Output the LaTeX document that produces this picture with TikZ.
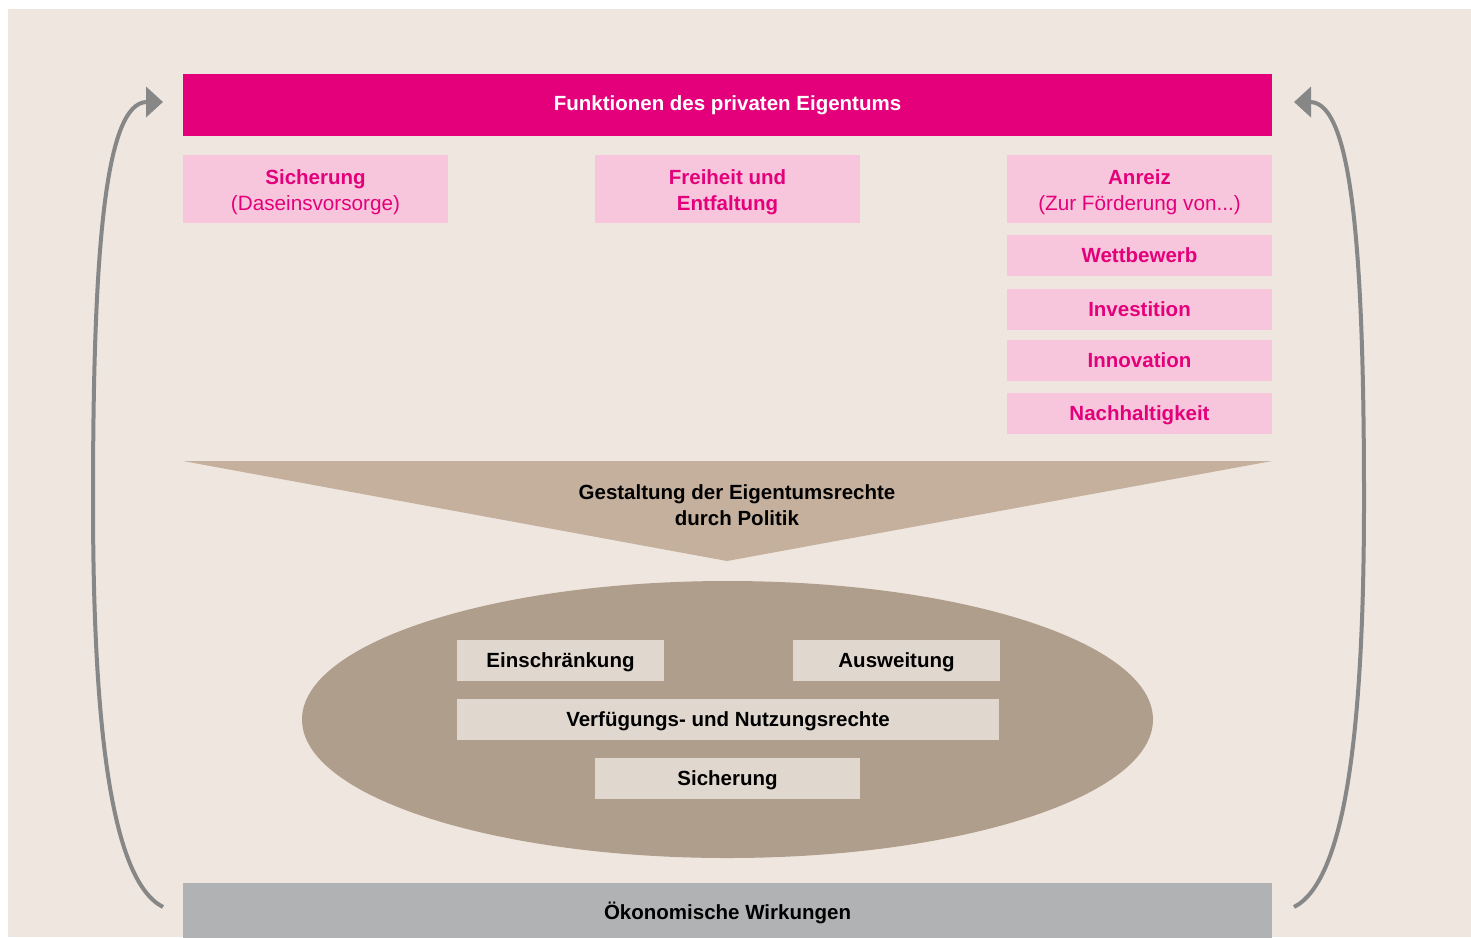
\documentclass[tikz,border=0pt]{standalone}
\usepackage{fontspec}
\setmainfont{Liberation Sans}
\usetikzlibrary{arrows.meta,shapes.geometric}
\definecolor{bgcol}{RGB}{239,230,223}
\definecolor{mag}{RGB}{228,0,122}
\definecolor{pinkfill}{RGB}{247,198,220}
\definecolor{triangcol}{RGB}{196,176,157}
\definecolor{ellcol}{RGB}{175,158,139}
\definecolor{innercol}{RGB}{224,215,206}
\definecolor{greycol}{RGB}{177,178,179}
\definecolor{arrcol}{RGB}{135,135,135}
\begin{document}
\begin{tikzpicture}[x=1pt,y=-1pt,
  bfont/.style={font=\fontsize{20.5}{26}\selectfont\bfseries},
  basebox/.style={rectangle, inner sep=0pt, minimum width=265pt, minimum height=41pt,
    align=center, text height=14.7pt, text depth=0pt, bfont},
  pinkbox/.style={basebox, fill=pinkfill, text=mag},
  innerbox/.style={basebox, fill=innercol, text=black},
  twoline/.style={minimum height=68pt, text height=42pt, text depth=0pt},
  loop arrow/.style={draw=arrcol, line width=4pt, -{Triangle[length=17pt,width=30pt]}, fill=none}
]
\useasboundingbox (0,0) rectangle (1471,937);
\fill[bgcol] (8,9) rectangle (1471,937);

% header
\node[basebox, fill=mag, text=white, minimum width=1089pt, minimum height=62pt,
  text depth=4.7pt] (head) at (727.5,105) {Funktionen des privaten Eigentums};

% function boxes
\node[pinkbox, twoline] (sich) at (315.5,189)
  {Sicherung\\{\fontsize{20.7}{26}\selectfont\mdseries (Daseinsvorsorge)}};
\node[pinkbox, twoline] (frei) at (727.5,189) {Freiheit und\\Entfaltung};
\node[pinkbox, twoline] (anr) at (1139.5,189)
  {Anreiz\\{\fontsize{20.7}{26}\selectfont\mdseries (Zur Förderung von...)}};
\node[pinkbox] (wett) at (1139.5,255.5) {Wettbewerb};
\node[pinkbox] (inv) at (1139.5,309.5) {Investition};
\node[pinkbox] (inno) at (1139.5,360.5) {Innovation};
\node[pinkbox] (nach) at (1139.5,413.5) {Nachhaltigkeit};

% triangle
\fill[triangcol] (183,461) -- (1272,461) -- (727,561) -- cycle;
\node[bfont, align=center, anchor=base, inner sep=0pt] (gest) at (737,525)
  {Gestaltung der Eigentumsrechte\\durch Politik};

% ellipse
\node[ellipse, fill=ellcol, minimum width=851pt, minimum height=277pt, inner sep=0pt]
  (ell) at (727.5,719.5) {};
\node[innerbox, minimum width=207pt] (ein) at (560.5,660.5) {Einschränkung};
\node[innerbox, minimum width=207pt] (aus) at (896.5,660.5) {Ausweitung};
\node[innerbox, minimum width=542pt] (verf) at (728,719.5) {Verfügungs- und Nutzungsrechte};
\node[innerbox] (sich2) at (727.5,778.5) {Sicherung};

% bottom
\node[basebox, fill=greycol, text=black, minimum width=1089pt, minimum height=58pt]
  (oek) at (727.5,912) {Ökonomische Wirkungen};

% loop arrows
\coordinate (lstart) at (163,907);
\coordinate (lmid) at (93,500);
\coordinate (ltip) at (163,102);
\coordinate (rstart) at (1294,907);
\coordinate (rmid) at (1364,500);
\coordinate (rtip) at (1294,102);
\draw[loop arrow] (lstart) .. controls (110,880) and (93,720) .. (lmid)
  .. controls (93,250) and (105,102) .. (ltip);
\draw[loop arrow] (rstart) .. controls (1347,880) and (1364,720) .. (rmid)
  .. controls (1364,250) and (1352,102) .. (rtip);
\end{tikzpicture}
\end{document}
